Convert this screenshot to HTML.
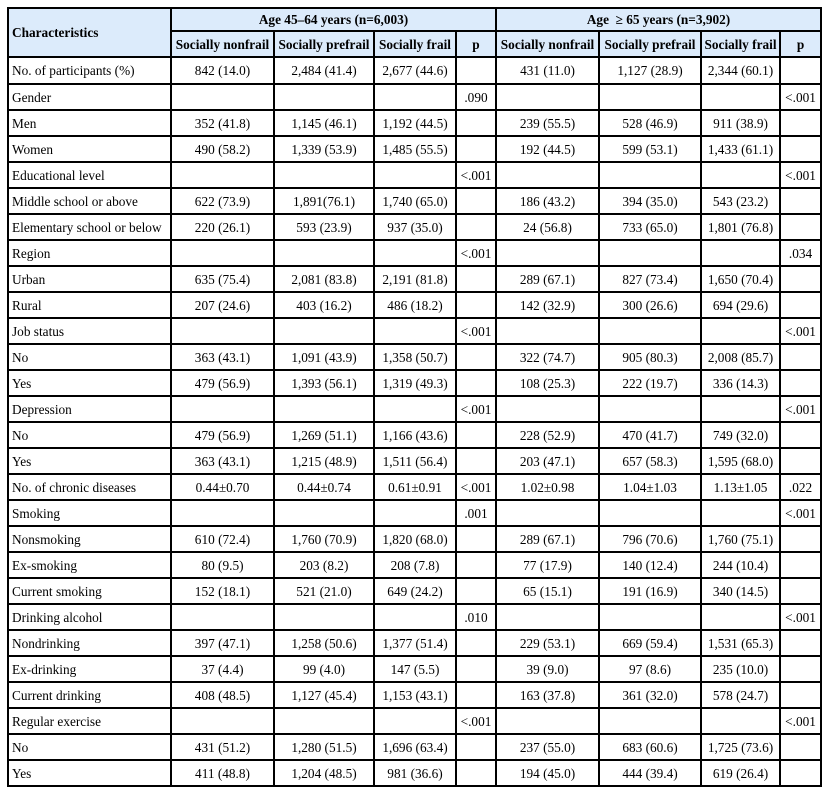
<!DOCTYPE html>
<html>
<head>
<meta charset="utf-8">
<style>
html,body{margin:0;padding:0;background:#fff;}
body{width:830px;height:798px;position:relative;overflow:hidden;font-family:"Liberation Serif","DejaVu Serif",serif;font-size:13.3px;color:#000;}
.hdrbg{position:absolute;left:8px;top:8px;width:813px;height:49px;background:#dcebfb;}
table{position:absolute;left:8px;top:8px;width:813px;border-collapse:separate;border-spacing:0;table-layout:fixed;}
td,th{padding:0;margin:0;text-align:center;vertical-align:middle;white-space:nowrap;overflow:visible;line-height:15px;}
th{font-weight:bold;}
td.l,th.l{text-align:left;padding-left:4px;}
tr.h1 th{height:23px;}
tr.h2 th{height:26px;}
tbody tr td{height:26px;}
tbody tr.r0 td{height:27px;}
.v{position:absolute;width:2px;background:#000;}
.h{position:absolute;height:2px;background:#000;}
</style>
</head>
<body>
<div class="hdrbg"></div>
<table>
<colgroup>
<col style="width:163px"><col style="width:103px"><col style="width:100px"><col style="width:82px"><col style="width:40px"><col style="width:103px"><col style="width:102px"><col style="width:79px"><col style="width:41px">
</colgroup>
<thead>
<tr class="h1"><th class="l" rowspan="2">Characteristics</th><th colspan="4">Age 45–64 years (n=6,003)</th><th colspan="4">Age&nbsp; ≥ 65 years (n=3,902)</th></tr>
<tr class="h2"><th>Socially nonfrail</th><th>Socially prefrail</th><th>Socially frail</th><th>p</th><th>Socially nonfrail</th><th>Socially prefrail</th><th>Socially frail</th><th>p</th></tr>
</thead>
<tbody>
<tr class="r0"><td class="l">No. of participants (%)</td><td>842 (14.0)</td><td>2,484 (41.4)</td><td>2,677 (44.6)</td><td></td><td>431 (11.0)</td><td>1,127 (28.9)</td><td>2,344 (60.1)</td><td></td></tr>
<tr><td class="l">Gender</td><td></td><td></td><td></td><td>.090</td><td></td><td></td><td></td><td>&lt;.001</td></tr>
<tr><td class="l">Men</td><td>352 (41.8)</td><td>1,145 (46.1)</td><td>1,192 (44.5)</td><td></td><td>239 (55.5)</td><td>528 (46.9)</td><td>911 (38.9)</td><td></td></tr>
<tr><td class="l">Women</td><td>490 (58.2)</td><td>1,339 (53.9)</td><td>1,485 (55.5)</td><td></td><td>192 (44.5)</td><td>599 (53.1)</td><td>1,433 (61.1)</td><td></td></tr>
<tr><td class="l">Educational level</td><td></td><td></td><td></td><td>&lt;.001</td><td></td><td></td><td></td><td>&lt;.001</td></tr>
<tr><td class="l">Middle school or above</td><td>622 (73.9)</td><td>1,891(76.1)</td><td>1,740 (65.0)</td><td></td><td>186 (43.2)</td><td>394 (35.0)</td><td>543 (23.2)</td><td></td></tr>
<tr><td class="l">Elementary school or below</td><td>220 (26.1)</td><td>593 (23.9)</td><td>937 (35.0)</td><td></td><td>24 (56.8)</td><td>733 (65.0)</td><td>1,801 (76.8)</td><td></td></tr>
<tr><td class="l">Region</td><td></td><td></td><td></td><td>&lt;.001</td><td></td><td></td><td></td><td>.034</td></tr>
<tr><td class="l">Urban</td><td>635 (75.4)</td><td>2,081 (83.8)</td><td>2,191 (81.8)</td><td></td><td>289 (67.1)</td><td>827 (73.4)</td><td>1,650 (70.4)</td><td></td></tr>
<tr><td class="l">Rural</td><td>207 (24.6)</td><td>403 (16.2)</td><td>486 (18.2)</td><td></td><td>142 (32.9)</td><td>300 (26.6)</td><td>694 (29.6)</td><td></td></tr>
<tr><td class="l">Job status</td><td></td><td></td><td></td><td>&lt;.001</td><td></td><td></td><td></td><td>&lt;.001</td></tr>
<tr><td class="l">No</td><td>363 (43.1)</td><td>1,091 (43.9)</td><td>1,358 (50.7)</td><td></td><td>322 (74.7)</td><td>905 (80.3)</td><td>2,008 (85.7)</td><td></td></tr>
<tr><td class="l">Yes</td><td>479 (56.9)</td><td>1,393 (56.1)</td><td>1,319 (49.3)</td><td></td><td>108 (25.3)</td><td>222 (19.7)</td><td>336 (14.3)</td><td></td></tr>
<tr><td class="l">Depression</td><td></td><td></td><td></td><td>&lt;.001</td><td></td><td></td><td></td><td>&lt;.001</td></tr>
<tr><td class="l">No</td><td>479 (56.9)</td><td>1,269 (51.1)</td><td>1,166 (43.6)</td><td></td><td>228 (52.9)</td><td>470 (41.7)</td><td>749 (32.0)</td><td></td></tr>
<tr><td class="l">Yes</td><td>363 (43.1)</td><td>1,215 (48.9)</td><td>1,511 (56.4)</td><td></td><td>203 (47.1)</td><td>657 (58.3)</td><td>1,595 (68.0)</td><td></td></tr>
<tr><td class="l">No. of chronic diseases</td><td>0.44±0.70</td><td>0.44±0.74</td><td>0.61±0.91</td><td>&lt;.001</td><td>1.02±0.98</td><td>1.04±1.03</td><td>1.13±1.05</td><td>.022</td></tr>
<tr><td class="l">Smoking</td><td></td><td></td><td></td><td>.001</td><td></td><td></td><td></td><td>&lt;.001</td></tr>
<tr><td class="l">Nonsmoking</td><td>610 (72.4)</td><td>1,760 (70.9)</td><td>1,820 (68.0)</td><td></td><td>289 (67.1)</td><td>796 (70.6)</td><td>1,760 (75.1)</td><td></td></tr>
<tr><td class="l">Ex-smoking</td><td>80 (9.5)</td><td>203 (8.2)</td><td>208 (7.8)</td><td></td><td>77 (17.9)</td><td>140 (12.4)</td><td>244 (10.4)</td><td></td></tr>
<tr><td class="l">Current smoking</td><td>152 (18.1)</td><td>521 (21.0)</td><td>649 (24.2)</td><td></td><td>65 (15.1)</td><td>191 (16.9)</td><td>340 (14.5)</td><td></td></tr>
<tr><td class="l">Drinking alcohol</td><td></td><td></td><td></td><td>.010</td><td></td><td></td><td></td><td>&lt;.001</td></tr>
<tr><td class="l">Nondrinking</td><td>397 (47.1)</td><td>1,258 (50.6)</td><td>1,377 (51.4)</td><td></td><td>229 (53.1)</td><td>669 (59.4)</td><td>1,531 (65.3)</td><td></td></tr>
<tr><td class="l">Ex-drinking</td><td>37 (4.4)</td><td>99 (4.0)</td><td>147 (5.5)</td><td></td><td>39 (9.0)</td><td>97 (8.6)</td><td>235 (10.0)</td><td></td></tr>
<tr><td class="l">Current drinking</td><td>408 (48.5)</td><td>1,127 (45.4)</td><td>1,153 (43.1)</td><td></td><td>163 (37.8)</td><td>361 (32.0)</td><td>578 (24.7)</td><td></td></tr>
<tr><td class="l">Regular exercise</td><td></td><td></td><td></td><td>&lt;.001</td><td></td><td></td><td></td><td>&lt;.001</td></tr>
<tr><td class="l">No</td><td>431 (51.2)</td><td>1,280 (51.5)</td><td>1,696 (63.4)</td><td></td><td>237 (55.0)</td><td>683 (60.6)</td><td>1,725 (73.6)</td><td></td></tr>
<tr><td class="l">Yes</td><td>411 (48.8)</td><td>1,204 (48.5)</td><td>981 (36.6)</td><td></td><td>194 (45.0)</td><td>444 (39.4)</td><td>619 (26.4)</td><td></td></tr>
</tbody>
</table>

<!-- vertical lines -->
<div class="v" style="left:7px;top:7px;height:780px"></div>
<div class="v" style="left:170px;top:7px;height:780px"></div>
<div class="v" style="left:273px;top:31px;height:756px"></div>
<div class="v" style="left:373px;top:31px;height:756px"></div>
<div class="v" style="left:455px;top:31px;height:756px"></div>
<div class="v" style="left:495px;top:7px;height:780px"></div>
<div class="v" style="left:598px;top:31px;height:756px"></div>
<div class="v" style="left:700px;top:31px;height:756px"></div>
<div class="v" style="left:779px;top:31px;height:756px"></div>
<div class="v" style="left:820px;top:7px;height:780px"></div>

<!-- horizontal lines -->
<div class="h" style="left:7px;top:7px;width:815px"></div>
<div class="h" style="left:170px;top:30px;width:652px"></div>
<div class="h" style="left:7px;top:56px;width:815px"></div>
<div class="h" style="left:7px;top:83px;width:815px"></div>
<div class="h" style="left:7px;top:109px;width:815px"></div>
<div class="h" style="left:7px;top:135px;width:815px"></div>
<div class="h" style="left:7px;top:161px;width:815px"></div>
<div class="h" style="left:7px;top:187px;width:815px"></div>
<div class="h" style="left:7px;top:213px;width:815px"></div>
<div class="h" style="left:7px;top:239px;width:815px"></div>
<div class="h" style="left:7px;top:265px;width:815px"></div>
<div class="h" style="left:7px;top:291px;width:815px"></div>
<div class="h" style="left:7px;top:317px;width:815px"></div>
<div class="h" style="left:7px;top:343px;width:815px"></div>
<div class="h" style="left:7px;top:369px;width:815px"></div>
<div class="h" style="left:7px;top:395px;width:815px"></div>
<div class="h" style="left:7px;top:421px;width:815px"></div>
<div class="h" style="left:7px;top:447px;width:815px"></div>
<div class="h" style="left:7px;top:473px;width:815px"></div>
<div class="h" style="left:7px;top:499px;width:815px"></div>
<div class="h" style="left:7px;top:525px;width:815px"></div>
<div class="h" style="left:7px;top:551px;width:815px"></div>
<div class="h" style="left:7px;top:577px;width:815px"></div>
<div class="h" style="left:7px;top:603px;width:815px"></div>
<div class="h" style="left:7px;top:629px;width:815px"></div>
<div class="h" style="left:7px;top:655px;width:815px"></div>
<div class="h" style="left:7px;top:681px;width:815px"></div>
<div class="h" style="left:7px;top:707px;width:815px"></div>
<div class="h" style="left:7px;top:733px;width:815px"></div>
<div class="h" style="left:7px;top:759px;width:815px"></div>
<div class="h" style="left:7px;top:785px;width:815px"></div>
</body>
</html>
